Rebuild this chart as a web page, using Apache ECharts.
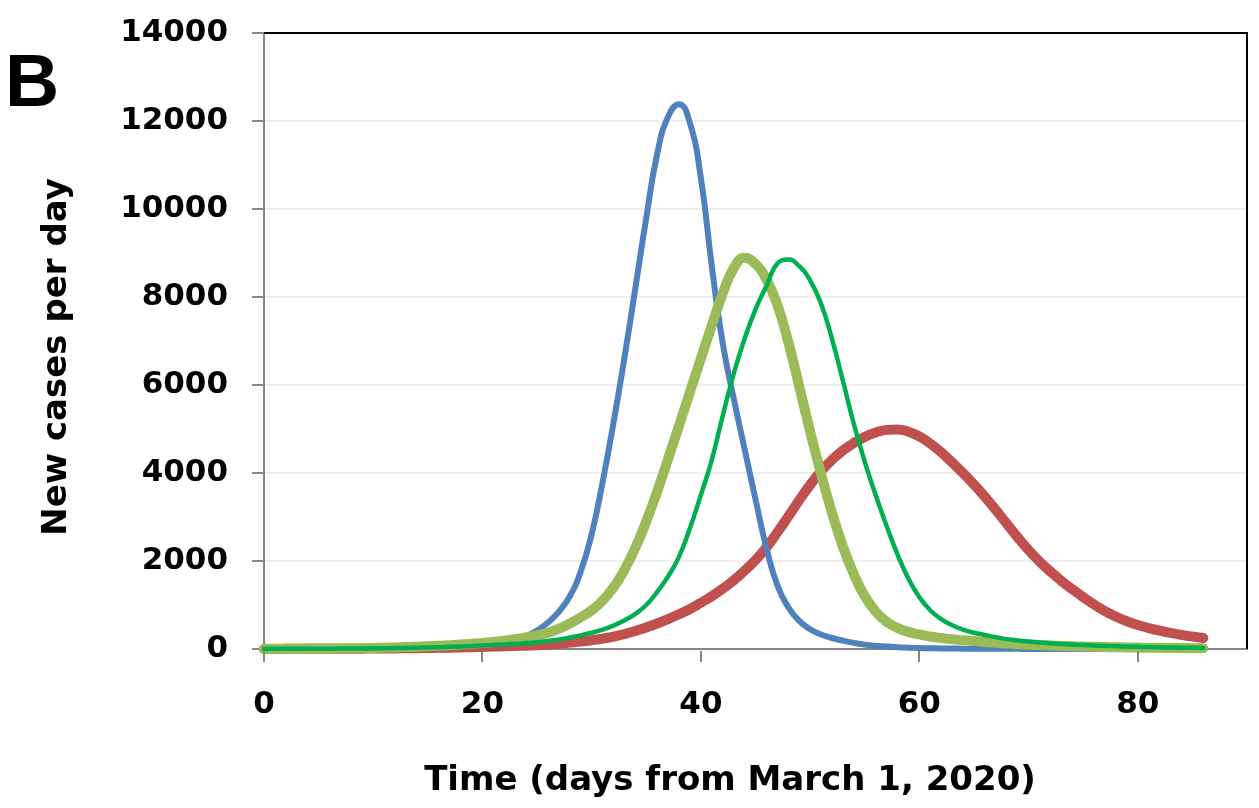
<!DOCTYPE html>
<html>
<head>
<meta charset="utf-8">
<script src="https://cdn.jsdelivr.net/npm/echarts@6/dist/echarts.min.js"></script>
<style>
html,body{margin:0;padding:0;background:#fff;}
#chart{width:1259px;height:808px;}
</style>
</head>
<body>
<div id="chart"></div>
<script>
// Data (days from March 1, 2020)
const days = [0,1,2,3,4,5,6,7,8,9,10,11,12,13,14,15,16,17,18,19,20,21,22,23,24,25,26,27,28,29,30,31,32,33,34,35,36,37,38,39,40,41,42,43,44,45,46,47,48,49,50,51,52,53,54,55,56,57,58,59,60,61,62,63,64,65,66,67,68,69,70,71,72,73,74,75,76,77,78,79,80,81,82,83,84,85,86];

const blueSeries = [2,2,3,3,4,5,6,7,9,11,13,16,20,24,30,37,45,55,68,84,
  103,128,160,215,295,420,600,850,1200,1760,
  2610,3790,5140,6620,8200,9800,11250,12100,12380,11950,
  10700,8700,6950,5700,4550,3400,2300,1450,950,640,
  450,330,250,190,140,100,75,55,40,30,
  22,17,13,10,8,6,5,4,3,3,
  2,2,2,2,1,1,1,1,1,1,
  1,1,1,1,1,1,1];

const oliveSeries = [5,6,7,8,9,11,13,15,18,21,25,30,36,43,51,61,72,85,100,118,
  138,160,190,225,265,310,370,460,580,720,
  880,1100,1400,1800,2300,2900,3580,4320,5080,5840,
  6600,7350,8080,8650,8890,8750,8400,7820,6980,5970,
  4950,3980,3100,2330,1700,1200,850,620,480,390,
  330,285,250,220,200,180,160,140,125,110,
  98,88,78,70,62,55,50,45,40,36,
  32,29,26,23,21,19,17];

const greenSeries = [3,4,4,5,6,7,8,9,11,13,15,18,21,25,30,35,42,50,58,68,
  80,92,105,120,135,155,180,215,260,310,
  370,440,530,650,800,1000,1300,1650,2100,2750,
  3500,4300,5300,6250,7050,7720,8250,8760,8850,8700,
  8380,7850,7050,6100,5120,4260,3500,2800,2150,1600,
  1180,880,680,540,440,370,320,270,225,195,
  170,150,130,115,100,90,80,70,62,55,
  49,44,39,35,31,28,25];

const redSeries = [2,2,3,3,4,4,5,6,7,8,10,12,14,16,19,22,26,30,35,41,
  48,55,62,69,76,85,100,120,145,170,
  200,235,280,340,410,490,580,680,790,910,
  1050,1200,1370,1560,1780,2020,2310,2650,3010,3380,
  3730,4040,4300,4510,4680,4820,4920,4980,4990,4940,
  4830,4670,4470,4240,4000,3740,3460,3160,2850,2540,
  2250,1990,1760,1550,1360,1180,1010,860,735,630,
  545,475,415,365,320,283,250];

const xTicks = [0,20,40,60,80];
const yTicks = [0,2000,4000,6000,8000,10000,12000,14000];
const xMax = 90, yMax = 14000;
const panelLabel = 'B';
const xTitle = 'Time (days from March 1, 2020)';
const yTitle = 'New cases per day';

function pairs(vals){ return days.map((d,i)=>[d, vals[i]]); }

const FONT = '"DejaVu Sans", sans-serif';
const chart = echarts.init(document.getElementById('chart'), null, {renderer:'canvas'});

function lineSeries(name, vals, color, width, z){
  return {
    name: name, type:'line', data: pairs(vals), showSymbol:false, symbol:'none',
    smooth: true, z: z,
    lineStyle:{color:color, width:width, cap:'round', join:'round'},
    emphasis:{disabled:true}
  };
}

const staticGraphics = [
  {type:'text', x:5, y:85, z:10,
    style:{text:panelLabel, font:'bold 75px "Liberation Sans", Arial, sans-serif', fill:'#000', align:'left', verticalAlign:'middle'}},
  {type:'text', x:730, y:781, z:10,
    style:{text:xTitle, font:'bold 34px "DejaVu Sans", sans-serif', fill:'#000', align:'center', verticalAlign:'middle'}},
  {type:'text', x:57, y:357, rotation:Math.PI/2, z:10,
    style:{text:yTitle, font:'bold 34px "DejaVu Sans", sans-serif', fill:'#000', align:'center', verticalAlign:'middle'}}
];

chart.setOption({
  animation:false,
  backgroundColor:'#ffffff',
  grid:{left:264, top:33, right:12, bottom:159, containLabel:false},
  xAxis:{
    type:'value', min:0, max:xMax, interval:20,
    axisLine:{show:true, onZero:false, lineStyle:{color:'#868686', width:2}},
    axisTick:{show:false},
    axisLabel:{margin:40, color:'#000', fontFamily:FONT, fontWeight:'bold', fontSize:31,
      formatter:function(v){ return xTicks.indexOf(v)>=0 ? String(v) : ''; }},
    splitLine:{show:false}
  },
  yAxis:{
    type:'value', min:0, max:yMax, interval:2000,
    axisLine:{show:true, onZero:false, lineStyle:{color:'#868686', width:2}},
    axisTick:{show:true, length:12, lineStyle:{color:'#868686', width:2}},
    axisLabel:{margin:36, color:'#000', fontFamily:FONT, fontWeight:'bold', fontSize:31,
      formatter:function(v){ return yTicks.indexOf(v)>=0 ? String(v) : ''; }},
    splitLine:{show:true, lineStyle:{color:'#E8E8E8', width:1.5}}
  },
  graphic: staticGraphics,
  series:[
    lineSeries('Red', redSeries, '#C0504D', 10, 2),
    lineSeries('Blue', blueSeries, '#4F81BD', 6, 3),
    lineSeries('Olive', oliveSeries, '#9BBB59', 10, 4),
    lineSeries('Green', greenSeries, '#00B050', 4.5, 5)
  ]
});

// Plot-area frame (top and right, black) and x tick marks, placed through the axis scales
const xL = chart.convertToPixel({xAxisIndex:0}, 0);
const xR = chart.convertToPixel({xAxisIndex:0}, xMax);
const yB = chart.convertToPixel({yAxisIndex:0}, 0);
const yT = chart.convertToPixel({yAxisIndex:0}, yMax);
const frame = [
  {type:'line', z:9, silent:true, shape:{x1:xL, y1:yT, x2:xR + 1, y2:yT}, style:{stroke:'#000', lineWidth:2}},
  {type:'line', z:9, silent:true, shape:{x1:xR, y1:yT, x2:xR, y2:yB}, style:{stroke:'#000', lineWidth:2}}
];
const tickGraphics = xTicks.map(function(v){
  const px = Math.round(chart.convertToPixel({xAxisIndex:0}, v));
  return {type:'line', z:9, silent:true,
    shape:{x1:px, y1:yB + 2, x2:px, y2:yB + 13},
    style:{stroke:'#868686', lineWidth:2}};
});
chart.setOption({graphic: staticGraphics.concat(frame, tickGraphics)});
</script>
</body>
</html>
